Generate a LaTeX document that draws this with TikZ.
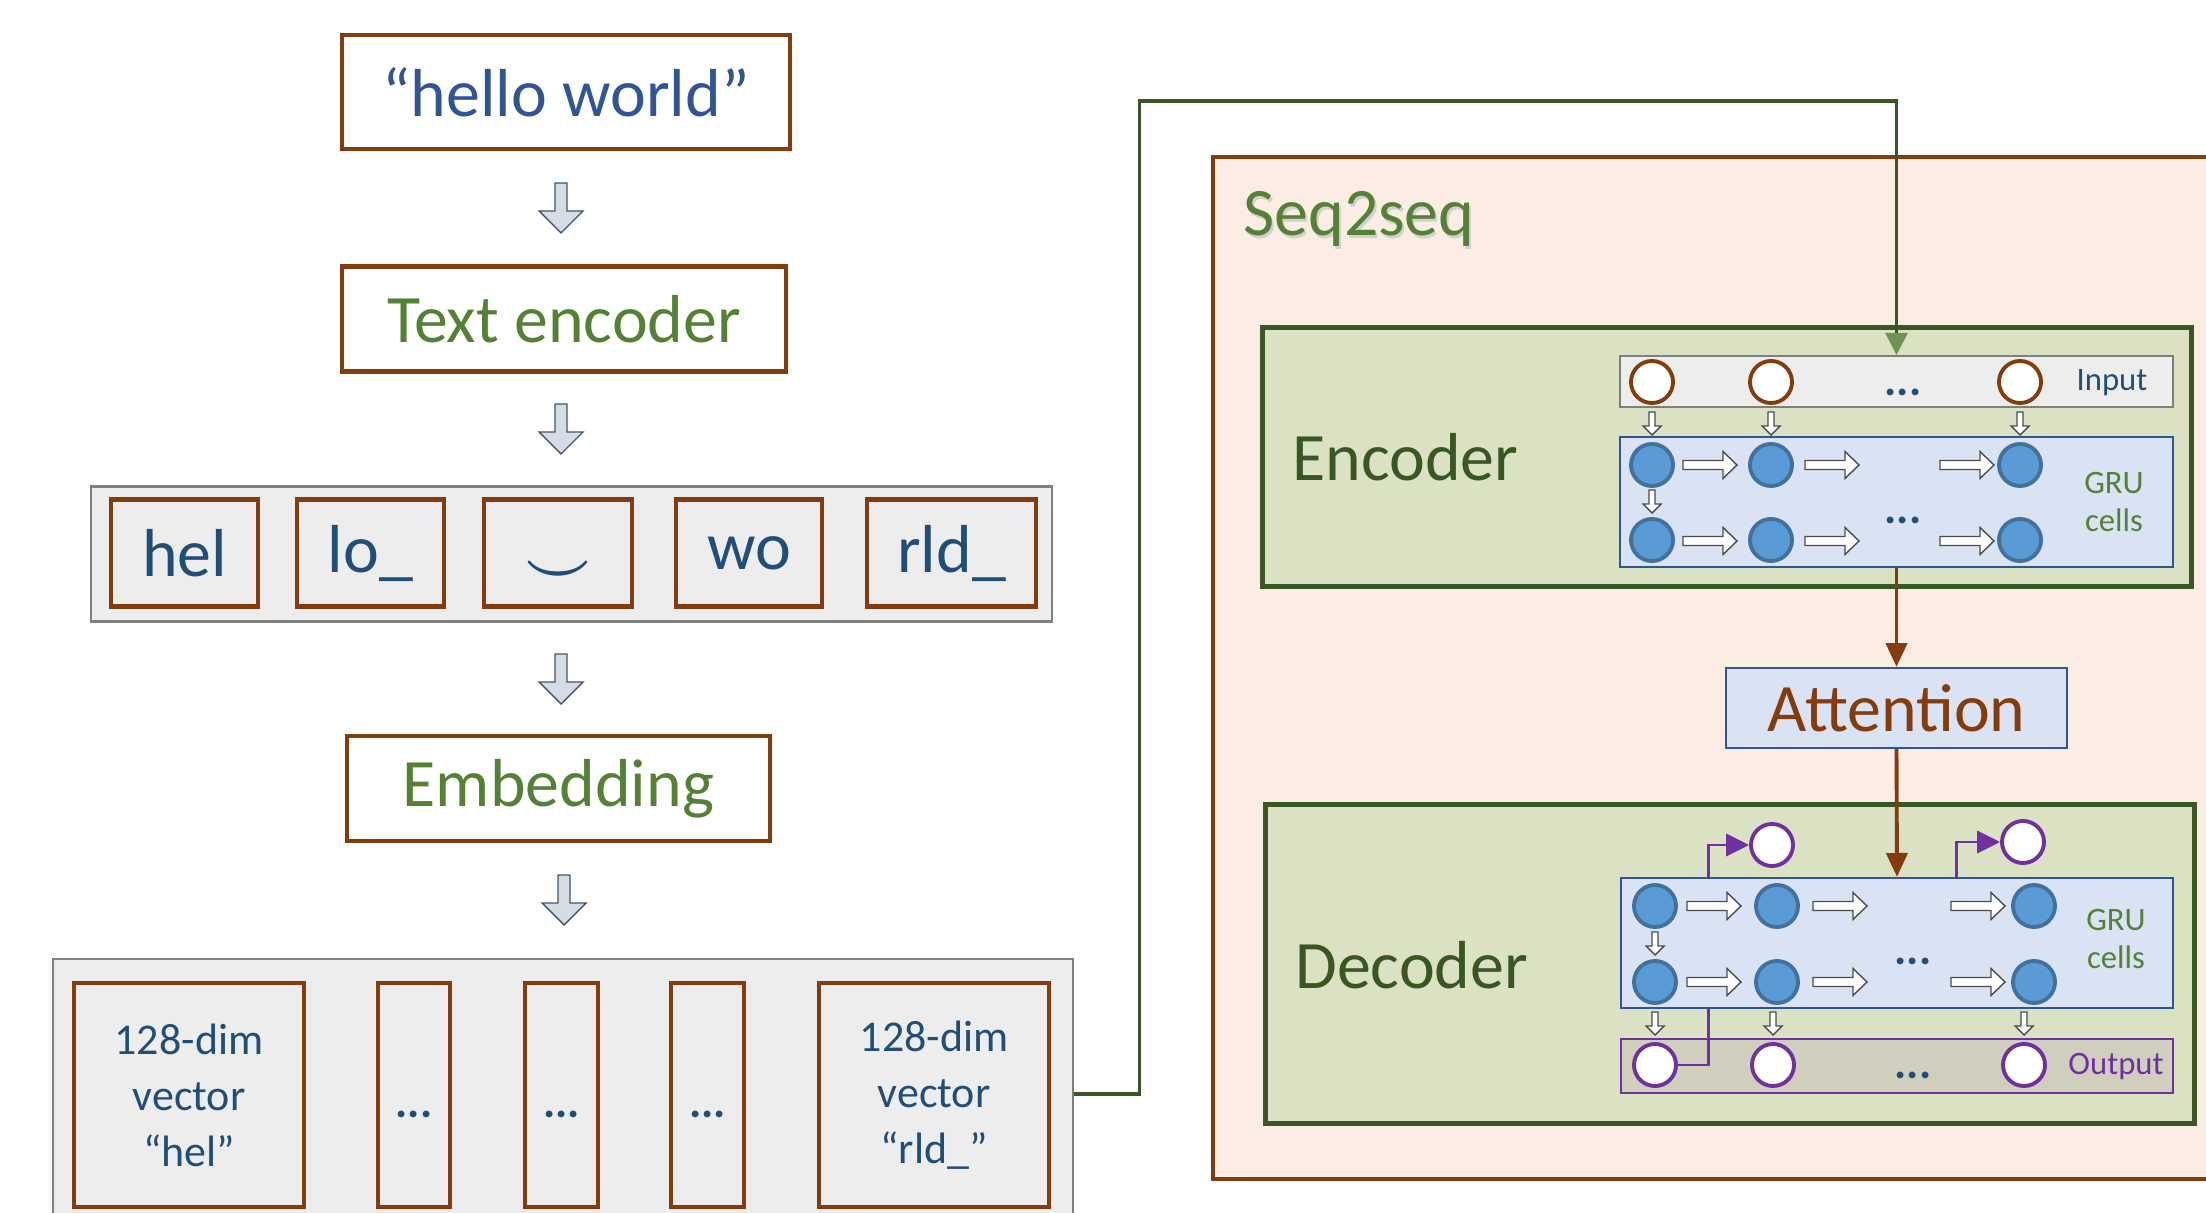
\documentclass[tikz,border=0pt]{standalone}
\usepackage{fontspec}
\setmainfont{Carlito}
\usetikzlibrary{arrows.meta}

\definecolor{boxbrown}{HTML}{843C0C}
\definecolor{hellblue}{HTML}{2F5597}
\definecolor{tokblue}{HTML}{1F4E79}
\definecolor{txtgreen}{HTML}{548235}
\definecolor{darkgreen}{HTML}{385723}
\definecolor{stripgray}{HTML}{EDEDED}
\definecolor{stripline}{HTML}{7F7F7F}
\definecolor{arrowfill}{HTML}{D6DCE5}
\definecolor{arrowline}{HTML}{44546A}
\definecolor{seqfill}{HTML}{FBEDE4}
\definecolor{encfill}{HTML}{DAE2C3}
\definecolor{grufill}{HTML}{DAE3F3}
\definecolor{cellfill}{HTML}{5B9BD5}
\definecolor{cellline}{HTML}{41719C}
\definecolor{outpurple}{HTML}{7030A0}
\definecolor{outfill}{HTML}{D0CFBE}

\tikzset{
	bigfont/.style={font=\fontsize{19.3}{23}\selectfont},
	vecfont/.style={font=\fontsize{12.5}{15.9}\selectfont},
	smallfont/.style={font=\fontsize{9.3}{10.8}\selectfont},
	dotfont/.style={font=\fontsize{13}{15}\selectfont\bfseries},
	brownbox/.style={draw=boxbrown, line width=1.2pt, inner sep=0pt},
	strip/.style={draw=stripline, fill=stripgray, line width=0.6pt, inner sep=0pt},
	stage/.style={draw=darkgreen, fill=encfill, line width=1.4pt, inner sep=0pt},
	grubox/.style={draw=hellblue, fill=grufill, line width=0.6pt, inner sep=0pt},
	cell/.style={circle, draw=cellline, fill=cellfill, line width=1.1pt, minimum size=0.42cm, inner sep=0pt},
	incell/.style={circle, draw=boxbrown, fill=white, line width=1.1pt, minimum size=0.42cm, inner sep=0pt},
	outcell/.style={circle, draw=outpurple, fill=white, line width=1.1pt, minimum size=0.42cm, inner sep=0pt},
	feed/.style={draw=darkgreen, line width=0.9pt, -{Triangle[length=6.3pt, width=6.3pt, color=txtgreen!85, fill=txtgreen!85]}},
	attlink/.style={draw=boxbrown, line width=1.1pt, -{Triangle[length=6.8pt, width=6pt]}},
	outlink/.style={draw=outpurple, line width=0.85pt, -{Triangle[length=6.5pt, width=6.3pt]}},
	bigdown/.pic={\draw[draw=arrowline, fill=arrowfill, line width=0.4pt] (-6,0) -- (6,0) -- (6,28) -- (22,28) -- (0,50) -- (-22,28) -- (-6,28) -- cycle;},
	smalldown/.pic={\draw[draw=black!70, fill=white, line width=0.4pt] (-3,0) -- (3,0) -- (3,14) -- (9,14) -- (0,23) -- (-9,14) -- (-3,14) -- cycle;},
	smallright/.pic={\draw[draw=black!70, fill=white, line width=0.4pt] (0,-4.5) -- (40,-4.5) -- (40,-13.5) -- (54,0) -- (40,13.5) -- (40,4.5) -- (0,4.5) -- cycle;}
}

\begin{document}
\begin{tikzpicture}[x=0.01cm, y=-0.01cm]
		\useasboundingbox (0,0) rectangle (2206,1213);

		% left column: text to vectors
		\node[brownbox, minimum width=4.47cm, minimum height=1.14cm, bigfont, text=hellblue] (hello) at (566,92) {“hello world”};
		\node[brownbox, minimum width=4.43cm, minimum height=1.05cm, bigfont, text=txtgreen] (textenc) at (564,319) {Text encoder};
		\node[strip, minimum width=9.61cm, minimum height=1.35cm] (tokstrip) at (571.5,554) {};
		\foreach \x/\w/\t [count=\i] in {184.5/1.47/hel, 370.5/1.47/lo\_, 558/1.48/{\raisebox{-0.9em}{\scalebox{0.8}{\boldmath$\smile$}}}, 749/1.46/wo, 951.5/1.69/rld\_}{
			\node[brownbox, fill=stripgray, minimum width=\w cm, minimum height=1.07cm, bigfont, text=tokblue] (tok\i) at (\x,553) {\t};
		}
		\node[brownbox, minimum width=4.23cm, minimum height=1.05cm, bigfont, text=txtgreen] (embed) at (558.5,788.5) {Embedding};
		\node[strip, minimum width=10.2cm, minimum height=2.7cm] (vecstrip) at (563,1094) {};
		\foreach \x/\w [count=\i] in {414/0.72, 561.5/0.73, 707.5/0.73}{
			\node[brownbox, fill=stripgray, minimum width=\w cm, minimum height=2.24cm, dotfont, text=tokblue, text height=0.44cm, text depth=0pt] (vdots\i) at (\x,1095) {...};
		}
		\node[brownbox, fill=stripgray, minimum width=2.3cm, minimum height=2.24cm, vecfont, text=tokblue, align=center] (vhel) at (189,1095) {128-dim\\vector\\“hel”};
		\node[brownbox, fill=stripgray, minimum width=2.3cm, minimum height=2.24cm, vecfont, text=tokblue, align=center] (vrld) at (934,1095) {128-dim\\vector\\“rld\_”};
		\foreach \x/\y in {561/183, 561/404, 561/654, 564/875}{
			\pic at (\x,\y) {bigdown};
		}

		% seq2seq frame
		\draw[draw=boxbrown, fill=seqfill, line width=1pt] (1213,157) rectangle (2260,1179);
		\node[bigfont, text=black!18, anchor=base west] at (1233,238.5) {Seq2seq};
		\node[bigfont, text=txtgreen, anchor=base west] (seqlabel) at (1231,236) {Seq2seq};

		% encoder
		\node[stage, minimum width=9.28cm, minimum height=2.58cm] (encoder) at (1727,457) {};
		\node[bigfont, text=darkgreen, anchor=base west] at (1280,481) {Encoder};
		\node[strip, minimum width=5.53cm, minimum height=0.51cm] (inbox) at (1896.5,381.5) {};
		\node[grubox, minimum width=5.53cm, minimum height=1.3cm] (encgru) at (1896.5,502) {};
		\foreach \x [count=\i] in {1652,1771,2020}{
			\node[incell] (in\i) at (\x,382) {};
			\node[cell] (ea\i) at (\x,465) {};
			\node[cell] (eb\i) at (\x,540) {};
			\pic at (\x,412) {smalldown};
		}
		\pic at (1652,490) {smalldown};
		\foreach \x in {1683,1805,1940}{
			\pic at (\x,465) {smallright};
			\pic at (\x,541) {smallright};
		}
		\node[dotfont, text=tokblue] at (1903,392) {...};
		\node[dotfont, text=tokblue] at (1903,520) {...};
		\node[smallfont, text=tokblue] at (2112,383) {Input};
		\node[smallfont, text=txtgreen, align=center] at (2114,502) {GRU\\cells};

		% attention
		\node[draw=hellblue, fill=grufill, line width=0.6pt, minimum width=3.41cm, minimum height=0.8cm, inner sep=0pt, bigfont, text=boxbrown] (att) at (1896.5,708) {Attention};

		% decoder
		\node[stage, minimum width=9.28cm, minimum height=3.18cm] (decoder) at (1730,964) {};
		\node[bigfont, text=darkgreen, anchor=base west] at (1283,988) {Decoder};
		\node[draw=outpurple, fill=outfill, line width=0.6pt, minimum width=5.52cm, minimum height=0.54cm, inner sep=0pt] (outbox) at (1897,1066) {};
		\foreach \x [count=\i] in {1655,1773,2024}{
			\node[outcell] (out\i) at (\x,1065) {};
			\pic at (\x,1012) {smalldown};
		}
		\node[outcell] (top1) at (1772,845) {};
		\node[outcell] (top2) at (2023,842) {};
		\draw[outlink] (out1.east) -- ++(31,0) |- (top1.west);
		\node[grubox, minimum width=5.52cm, minimum height=1.3cm] (decgru) at (1897,943) {};
		\coordinate (tap2) at (1956,878);
		\draw[outlink] (tap2) |- (top2.west);
		\foreach \x [count=\i] in {1655,1777,2034}{
			\node[cell] (da\i) at (\x,906) {};
			\node[cell] (db\i) at (\x,982) {};
		}
		\pic at (1655,932) {smalldown};
		\foreach \x in {1687,1813,1951}{
			\pic at (\x,906) {smallright};
			\pic at (\x,982) {smallright};
		}
		\node[dotfont, text=tokblue] at (1913,961) {...};
		\node[dotfont, text=tokblue] at (1913,1075) {...};
		\node[smallfont, text=outpurple] at (2116,1067) {Output};
		\node[smallfont, text=txtgreen, align=center] at (2116,939) {GRU\\cells};

		% links
		\coordinate (turn) at (1896.5,101);
		\draw[feed] (vecstrip.east) -- ++(65,0) |- (turn) -- (inbox.north);
		\draw[attlink] (encgru.south) -- (att.north);
		\draw[attlink] (att.south) -- (decgru.north);
		\end{tikzpicture}
\end{document}
